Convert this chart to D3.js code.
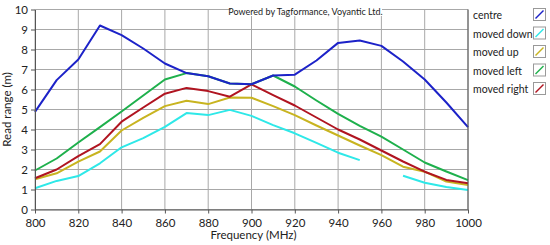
<!DOCTYPE html>
<html>
<head>
<meta charset="utf-8" />
<script src="https://cdn.jsdelivr.net/npm/d3@7"></script>
<style>
  body { margin: 0; background: #fff; }
  text { font-family: Lato, "Open Sans", sans-serif; fill: #222; }
  .grid line { stroke: #a8a8a8; stroke-width: 1; }
  .axis path, .axis line { stroke: #555; }
  .series { fill: none; stroke-width: 2; stroke-linejoin: round; }
</style>
</head>
<body>
<div id="chart"></div>
<script>
var w = 550, h = 245;
var margin = { left: 35, right: 82, top: 9.5, bottom: 35.5 };

var freqs = [800, 810, 820, 830, 840, 850, 860, 870, 880, 890, 900,
             910, 920, 930, 940, 950, 960, 970, 980, 990, 1000];

var centre     = [4.88, 6.47, 7.5, 9.2, 8.72, 8.05, 7.3, 6.82, 6.66, 6.3, 6.26,
                  6.7, 6.74, 7.45, 8.33, 8.45, 8.18, 7.4, 6.5, 5.35, 4.12];
var movedDown  = [1.06, 1.43, 1.67, 2.31, 3.11, 3.57, 4.13, 4.82, 4.72, 4.98, 4.68,
                  4.22, 3.81, 3.33, 2.84, 2.47, null, 1.69, 1.34, 1.12, 0.98];
var movedUp    = [1.51, 1.81, 2.39, 2.9, 3.95, 4.58, 5.17, 5.44, 5.27, 5.6, 5.59,
                  5.17, 4.72, 4.2, 3.7, 3.2, 2.72, 2.14, 1.89, 1.4, 1.22];
var movedLeft  = [1.95, 2.55, 3.35, 4.12, 4.9, 5.7, 6.5, 6.82, 6.66, 6.3, 6.26,
                  6.7, 6.15, 5.45, 4.78, 4.18, 3.64, 3.0, 2.35, 1.9, 1.47];
var movedRight = [1.56, 2.0, 2.67, 3.27, 4.39, 5.1, 5.79, 6.08, 5.92, 5.64, 6.26,
                  5.72, 5.2, 4.6, 4.0, 3.5, 2.95, 2.4, 1.89, 1.48, 1.31];

var seriesNames = ["centre", "moved down", "moved up", "moved left", "moved right"];
var seriesColors = ["#1c22c8", "#2ee8e8", "#c8b420", "#1eb04c", "#b01420"];
var seriesValues = [centre, movedDown, movedUp, movedLeft, movedRight];
// draw order: later on top
var drawOrder = [1, 2, 4, 3, 0];

var xTicks = d3.range(800, 1001, 20);
var yTicks = d3.range(0, 11, 1);

var svg = d3.select("#chart").append("svg")
  .attr("width", w).attr("height", h);

var x = d3.scaleLinear().domain([800, 1000]).range([margin.left, w - margin.right]);
var y = d3.scaleLinear().domain([0, 10]).range([h - margin.bottom, margin.top]);

// grid
var grid = svg.append("g").attr("class", "grid");
grid.selectAll("line.v").data(xTicks).enter().append("line")
  .attr("x1", d => x(d)).attr("x2", d => x(d))
  .attr("y1", y(0)).attr("y2", y(10));
grid.selectAll("line.h").data(yTicks).enter().append("line")
  .attr("x1", x(800)).attr("x2", x(1000))
  .attr("y1", d => y(d)).attr("y2", d => y(d));

// lines
var line = d3.line()
  .defined(d => d[1] != null)
  .x(d => x(d[0])).y(d => y(d[1]));

drawOrder.forEach(function(i) {
  svg.append("path")
    .attr("class", "series")
    .attr("stroke", seriesColors[i])
    .attr("d", line(freqs.map((f, j) => [f, seriesValues[i][j]])));
});

// axes
svg.append("g").attr("class", "axis")
  .attr("transform", "translate(0," + y(0) + ")")
  .call(d3.axisBottom(x).tickValues(xTicks).tickFormat(d3.format("d"))
    .tickSize(4).tickSizeOuter(0).tickPadding(5));
svg.append("g").attr("class", "axis")
  .attr("transform", "translate(" + x(800) + ",0)")
  .call(d3.axisLeft(y).tickValues(yTicks).tickSize(4).tickSizeOuter(0).tickPadding(3));
svg.selectAll(".axis text").style("font-size", "11.5px")
  .style("font-family", "Lato, sans-serif").attr("fill", "#222");
svg.append("line").attr("x1", x(1000)).attr("x2", x(1000))
  .attr("y1", y(0)).attr("y2", y(10)).attr("stroke", "#555");

// axis titles
svg.append("text")
  .attr("x", (x(800) + x(1000)) / 2 + 2).attr("y", 239)
  .attr("text-anchor", "middle").style("font-size", "11.5px")
  .text("Frequency (MHz)");
svg.append("text")
  .attr("transform", "translate(11," + ((y(0) + y(10)) / 2) + ") rotate(-90)")
  .attr("text-anchor", "middle").style("font-size", "11.5px")
  .text("Read range (m)");

// watermark
var wm = svg.append("g");
wm.append("rect").attr("x", 231).attr("y", 4).attr("width", 151).attr("height", 12).attr("fill", "#fff");
wm.append("text").attr("x", 305.5).attr("y", 14.5).attr("text-anchor", "middle")
  .style("font-size", "9px").text("Powered by Tagformance, Voyantic Ltd.");

// legend
var legend = svg.append("g");
seriesNames.forEach(function(name, i) {
  var ly = 15 + i * 18.5;
  legend.append("text").attr("x", 473).attr("y", ly + 4)
    .style("font-size", "10.5px").text(name);
  legend.append("rect").attr("x", 533.5).attr("y", ly - 6.5)
    .attr("width", 12).attr("height", 12)
    .attr("fill", "#fff").attr("stroke", "#999");
  legend.append("line").attr("x1", 535.5).attr("y1", ly + 3.5)
    .attr("x2", 543.5).attr("y2", ly - 4.5)
    .attr("stroke", seriesColors[i]).attr("stroke-width", 1.5);
});
</script>
</body>
</html>
